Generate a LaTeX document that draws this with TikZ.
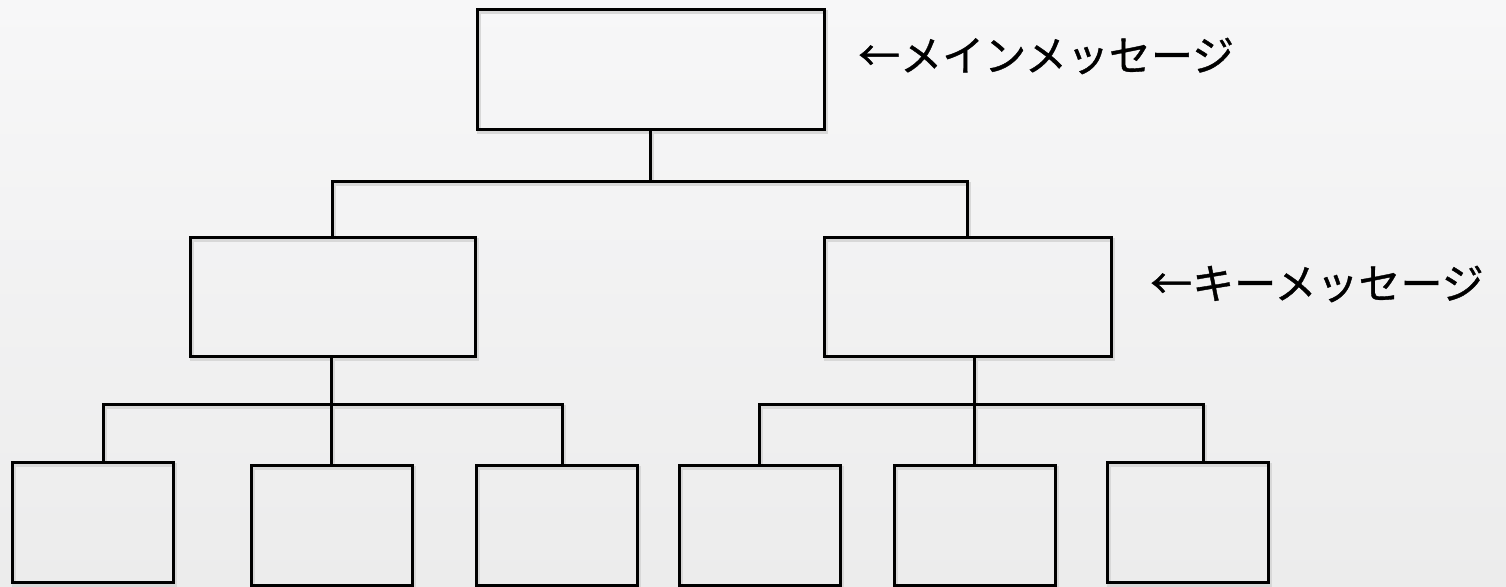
\documentclass[tikz,border=0pt]{standalone}
\usepackage{fontspec}
\newfontfamily\jpfont[FakeBold=0.9]{Noto Sans CJK JP}
\usetikzlibrary{shadows,calc}
\pgfdeclarelayer{bglayer}
\pgfdeclarelayer{shadelayer}
\pgfsetlayers{bglayer,shadelayer,main}
\definecolor{bgtop}{HTML}{F7F7F8}
\definecolor{bgbot}{HTML}{ECECEC}
\definecolor{shadowc}{HTML}{D8D8D8}
\tikzset{
  box/.style={draw=black, line width=3pt, rectangle, inner sep=0pt, outer sep=0pt,
    drop shadow={shadow xshift=1.5pt, shadow yshift=-2.5pt, draw=shadowc, line width=4pt, fill=none, opacity=1}},
  conn/.style={draw=black, line width=3pt},
  connshadow/.style={draw=shadowc, line width=4pt},
  lbl/.style={font=\jpfont\fontsize{42}{50}\selectfont, inner sep=0pt, anchor=west, text=black}
}
\newcommand{\treeconnectors}[1]{%
  \draw[#1] (top.south) -- (top.south |- j1);
  \draw[#1] (lm.north) -- (lm.north |- j1) -- (rm.north |- j1) -- (rm.north);
  \draw[#1] (b2.north) -- (b2.north |- lm.south);
  \draw[#1] (jl |- b1.north) -- (jl) -- (jr) -- (jr |- b3.north);
  \draw[#1] (b5.north) -- (b5.north |- rm.south);
  \draw[#1] (kl |- b4.north) -- (kl) -- (kr) -- (kr |- b6.north);
}
\begin{document}
\begin{tikzpicture}[x=1pt,y=-1pt]
\useasboundingbox (0,0) rectangle (1506,586);
\begin{pgfonlayer}{bglayer}
  \shade[top color=bgtop, bottom color=bgbot] (0,0) rectangle (1506,586);
\end{pgfonlayer}
\clip (0,0) rectangle (1506,586);
% boxes
\node[box, minimum width=347pt, minimum height=120pt] (top) at (650.5,69.5) {};
\node[box, minimum width=285pt, minimum height=119pt] (lm) at (332.5,296.5) {};
\node[box, minimum width=287pt, minimum height=119pt] (rm) at (967.5,296.5) {};
\node[box, minimum width=161pt, minimum height=120pt] (b1) at (93,522.5) {};
\node[box, minimum width=161pt, minimum height=120pt] (b2) at (331.5,525) {};
\node[box, minimum width=161pt, minimum height=120pt] (b3) at (556.5,525) {};
\node[box, minimum width=161pt, minimum height=120pt] (b4) at (760,525) {};
\node[box, minimum width=161pt, minimum height=120pt] (b5) at (974.5,525) {};
\node[box, minimum width=161pt, minimum height=120pt] (b6) at (1188,522.5) {};
% junction points
\coordinate (j1) at (650.5,181);
\coordinate (jl) at (103,404);
\coordinate (jr) at (562,404);
\coordinate (kl) at (759,404);
\coordinate (kr) at (1203,404);
% connector shadows
\begin{pgfonlayer}{shadelayer}
  \begin{scope}[transform canvas={shift={(1.5pt,-2.5pt)}}]
    \treeconnectors{connshadow}
  \end{scope}
\end{pgfonlayer}
\treeconnectors{conn}
% labels
\node[lbl] (lab1) at (858,56) {←メインメッセージ};
\node[lbl] (lab2) at (1150,284) {←キーメッセージ};
\end{tikzpicture}
\end{document}
